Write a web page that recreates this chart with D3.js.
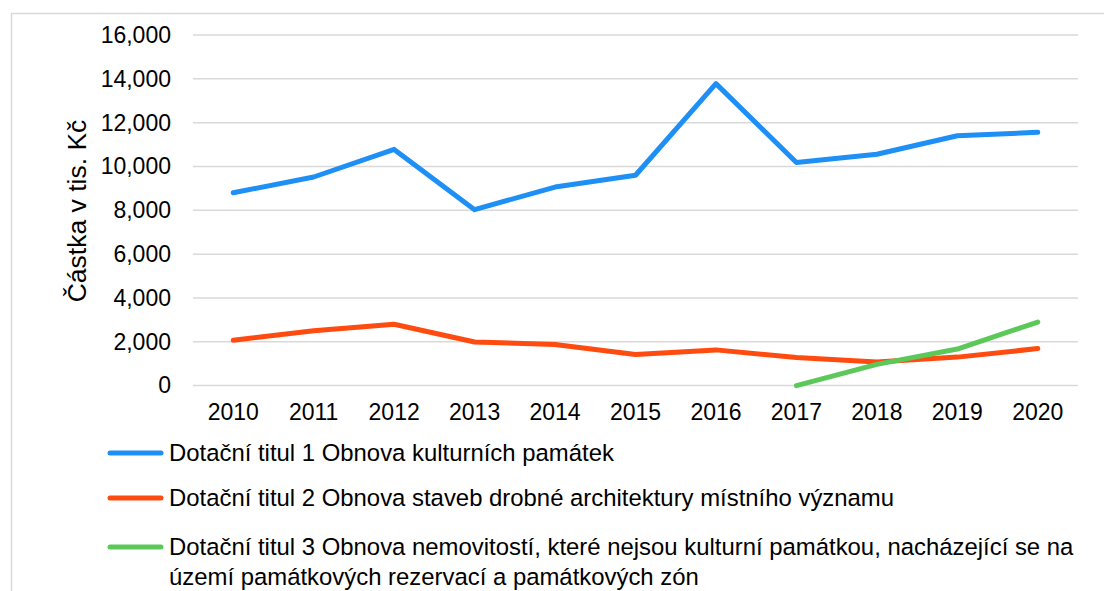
<!DOCTYPE html>
<html>
<head>
<meta charset="utf-8">
<script src="https://cdn.jsdelivr.net/npm/d3@7"></script>
<style>
body { margin: 0; background: #fff; }
text { font-family: "Liberation Sans", Arial, sans-serif; fill: #000; }
</style>
</head>
<body>
<svg id="chart" width="1104" height="591"></svg>
<script>
var years = ['2010','2011','2012','2013','2014','2015','2016','2017','2018','2019','2020'];
var titul1 = [8800, 9520, 10780, 8030, 9060, 9600, 13780, 10180, 10560, 11400, 11560];
var titul2 = [2070, 2500, 2800, 1990, 1880, 1420, 1630, 1280, 1080, 1300, 1690];
var titul3 = [null, null, null, null, null, null, null, 0, 970, 1670, 2900];
var seriesNames = [
	['Dotační titul 1 Obnova kulturních památek'],
	['Dotační titul 2 Obnova staveb drobné architektury místního významu'],
	['Dotační titul 3 Obnova nemovitostí, které nejsou kulturní památkou, nacházející se na', 'území památkových rezervací a památkových zón']
];
var colors = ['#1E90F5', '#FF4B0F', '#5CC85A'];
var yTicks = [0, 2000, 4000, 6000, 8000, 10000, 12000, 14000, 16000];

var svg = d3.select('#chart');

// outer chart border (runs off the right and bottom edges)
svg.append('rect')
	.attr('x', 11.5).attr('y', 13.5)
	.attr('width', 1120).attr('height', 600)
	.attr('fill', 'none').attr('stroke', '#d9d9d9').attr('stroke-width', 1.5);

var x = d3.scaleBand().domain(years).range([193, 1078]);
var y = d3.scaleLinear().domain([0, 16000]).range([385.6, 35]);

// gridlines
svg.append('g').selectAll('line').data(yTicks).enter().append('line')
	.attr('x1', 193).attr('x2', 1078)
	.attr('y1', d => y(d)).attr('y2', d => y(d))
	.attr('stroke', '#d9d9d9').attr('stroke-width', 1.5);

// y axis labels
var yAxis = svg.append('g').attr('transform', 'translate(193,0)')
	.call(d3.axisLeft(y).tickValues(yTicks).tickFormat(d3.format(',')).tickSize(0).tickPadding(22));
yAxis.select('.domain').remove();
yAxis.selectAll('text').style('font-size', '23px').style('font-family', '"Liberation Sans", Arial, sans-serif').attr('fill', '#000');

// x axis labels
var xAxis = svg.append('g').attr('transform', 'translate(0,' + y(0) + ')')
	.call(d3.axisBottom(x).tickSize(0).tickPadding(18));
xAxis.select('.domain').remove();
xAxis.selectAll('text').style('font-size', '23px').style('font-family', '"Liberation Sans", Arial, sans-serif').attr('fill', '#000');

// y axis title
svg.append('text')
	.attr('transform', 'translate(86,211) rotate(-90)')
	.attr('text-anchor', 'middle')
	.style('font-size', '26.5px')
	.text('Částka v tis. Kč');

var line = d3.line()
	.defined(d => d[1] != null)
	.x(d => x(d[0]) + x.bandwidth() / 2)
	.y(d => y(d[1]));

[titul1, titul2, titul3].forEach(function(vals, i) {
	svg.append('path').datum(years.map((yr, j) => [yr, vals[j]]))
		.attr('d', line)
		.attr('fill', 'none')
		.attr('stroke', colors[i])
		.attr('stroke-width', 5)
		.attr('stroke-linejoin', 'round')
		.attr('stroke-linecap', 'round');
});

// legend
var legY = [453, 498, 547];
seriesNames.forEach(function(lines, i) {
	var g = svg.append('g').attr('transform', 'translate(0,' + legY[i] + ')');
	g.append('line').attr('x1', 110).attr('x2', 161).attr('y1', 0).attr('y2', 0)
		.attr('stroke', colors[i]).attr('stroke-width', 5).attr('stroke-linecap', 'round');
	lines.forEach(function(t, k) {
		g.append('text').attr('x', 169).attr('y', 8 + k * 29.5)
			.style('font-size', '23.9px').text(t);
	});
});
</script>
</body>
</html>
